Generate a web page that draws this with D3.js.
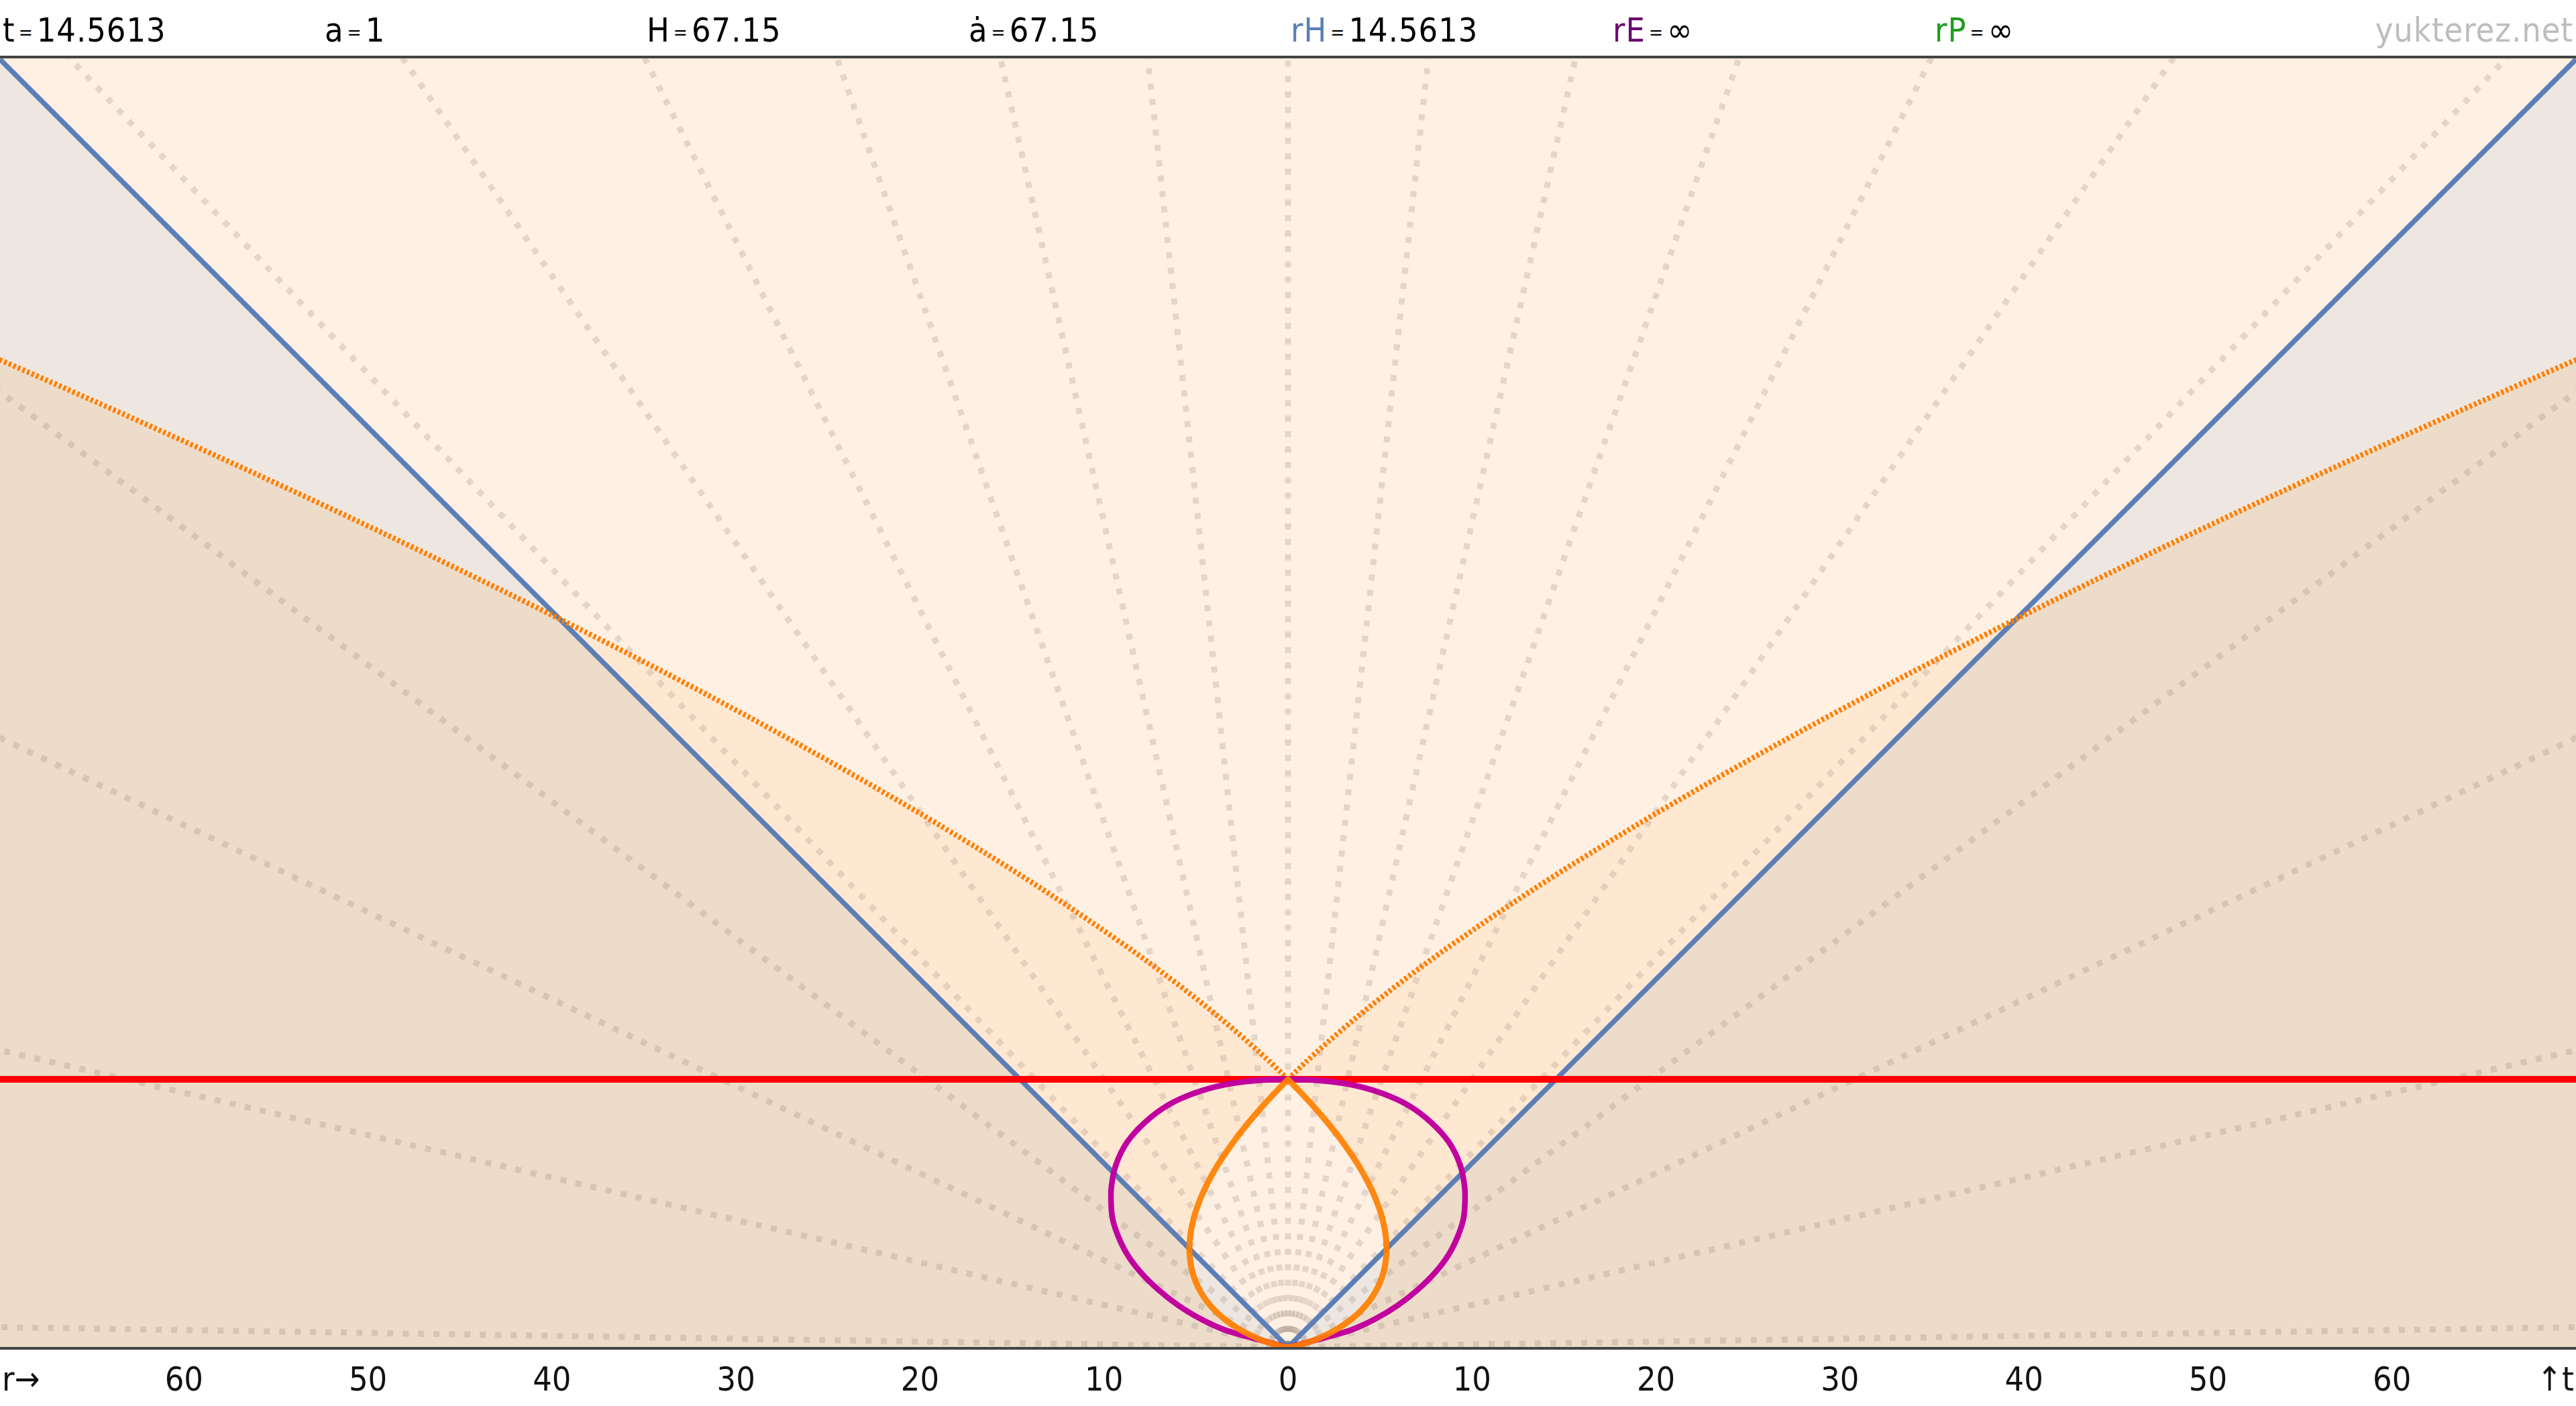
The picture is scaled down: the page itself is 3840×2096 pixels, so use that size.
<!DOCTYPE html>
<html><head><meta charset="utf-8">
<script src="https://cdn.jsdelivr.net/npm/d3@7"></script>
<style>html,body{margin:0;padding:0;background:#fff;overflow:hidden}</style>
</head><body>
<svg id="chart" width="3840" height="2096"></svg>
<script>
// ---------- data ----------
const T_NOW = 14.5613;
const headerLabels = ["t", "a", "H", "ȧ", "rH", "rE", "rP"];
const headerValues = ["14.5613", "1", "67.15", "67.15", "14.5613", "∞", "∞"];
const headerColors = ["#000", "#000", "#000", "#000", "#5b7fb6", "#6a0a6e", "#1f9e1f"];
const watermark = "yukterez.net";
const tickValues = [-60, -50, -40, -30, -20, -10, 0, 10, 20, 30, 40, 50, 60];
const tickLabels = ["60", "50", "40", "30", "20", "10", "0", "10", "20", "30", "40", "50", "60"];
// slopes r/t of the dotted comoving world lines
const raySlopes = [0, 0.1088, 0.2231, 0.3499, 0.4990, 0.6868, 0.9452, 1.3479, 2.1136, 4.336, 64];
// Hubble radius r = t
const hubbleT = [0, 70];
const hubbleR = [0, 70];
// past light cone (orange solid), t ascending
const pastT = [0, 0.02, 0.05, 0.1, 0.25, 0.5, 1, 1.5, 2, 2.5, 3, 3.5, 4, 4.5, 5, 5.357, 6, 7, 8, 9, 10, 11, 12, 13, 14, 14.5613];
const pastR = [0, 0.132, 0.284, 0.498, 1.016, 1.686, 2.678, 3.409, 3.971, 4.405, 4.739, 4.990, 5.168, 5.284, 5.345, 5.357, 5.320, 5.128, 4.792, 4.331, 3.758, 3.085, 2.322, 1.475, 0.550, 0];
// future light cone (orange dotted), t ascending
const futT = [14.5613, 15, 16, 18, 20, 22, 25, 28, 30, 33, 36, 39.58, 42, 45, 48, 51, 54, 57, 60, 70];
const futR = [0, 0.445, 1.508, 3.816, 6.346, 9.079, 13.51, 18.31, 21.69, 27.00, 32.58, 39.58, 44.49, 50.77, 57.26, 63.93, 70.77, 77.79, 84.96, 109.9];
// magenta curve, t ascending (one half, mirrored)
const magT = [0, 0.2, 0.5, 0.93, 1.54, 2.27, 3.12, 4.09, 5.07, 6.04, 7.01, 7.98, 8.71, 9.92, 11.14, 12.23, 13.14, 13.81, 14.28, 14.50, 14.5613];
const magR = [0, 0.75, 1.90, 3.40, 4.74, 5.95, 7.04, 8.02, 8.75, 9.23, 9.54, 9.62, 9.60, 9.35, 8.75, 7.77, 6.56, 5.10, 3.40, 1.70, 0];

// ---------- layout ----------
const W = 3840, H = 2096;
const x = d3.scaleLinear().domain([-70, 70]).range([0, W]);
const y = d3.scaleLinear().domain([0, 70]).range([2008.5, 88.4]);
const plotTop = 87, plotBottom = 2008.5;

const col = {
  base: "#fef0e3", outLC: "#ffe8d2", outH: "#eee7e1", both: "#ecdcc9",
  blue: "#5b7fb6", orange: "#ff7f00", magenta: "#c1009f", red: "#ff0000"
};

const svg = d3.select("#chart");
svg.append("rect").attr("width", W).attr("height", H).attr("fill", "#fff");
const defs = svg.append("defs");
defs.append("clipPath").attr("id", "plotClip").append("rect")
  .attr("x", 0).attr("y", plotTop).attr("width", W).attr("height", plotBottom - plotTop + 1);

const line = d3.line().x(d => x(d[0])).y(d => y(d[1]));
const smooth = d3.line().x(d => x(d[0])).y(d => y(d[1])).curve(d3.curveCatmullRom.alpha(0.5));
const join = (...strs) => strs.map((s, i) => i === 0 ? s : s.replace(/^M/, "L")).join("");

const pastRight = pastT.map((t, i) => [pastR[i], t]);
const pastLeft = pastT.map((t, i) => [-pastR[i], t]);
const futRight = futT.map((t, i) => [futR[i], t]);
const futLeft = futT.map((t, i) => [-futR[i], t]);

// light cone interior (past teardrop + future cone)
const lcPath = join(
  smooth(pastRight), smooth(futRight),
  smooth(futLeft.slice().reverse()), smooth(pastLeft.slice().reverse())
) + "Z";
defs.append("clipPath").attr("id", "lcClip").append("path").attr("d", lcPath);

// region outside Hubble radius
const hubOut = line([[0, 0], [-hubbleR[1], hubbleT[1]], [-70, 0]]) + "Z" +
               line([[0, 0], [hubbleR[1], hubbleT[1]], [70, 0]]) + "Z";

const plot = svg.append("g").attr("clip-path", "url(#plotClip)");
plot.append("rect").attr("x", 0).attr("y", plotTop).attr("width", W).attr("height", plotBottom - plotTop + 1).attr("fill", col.outLC);
plot.append("path").attr("d", hubOut).attr("fill", col.both);
plot.append("path").attr("d", lcPath).attr("fill", col.base);
plot.append("g").attr("clip-path", "url(#lcClip)").append("path").attr("d", hubOut).attr("fill", col.outH);

// dotted comoving world lines
const rays = [];
raySlopes.forEach(v => { rays.push(v); if (v > 0) rays.push(-v); });
plot.append("g").selectAll("path").data(rays).join("path")
  .attr("d", v => { const n = Math.hypot(v, 1); return line([[0, 0], [150 * v / n, 150 / n]]); })
  .attr("fill", "none").attr("stroke", "rgba(140,120,105,0.22)")
  .attr("stroke-width", 9).attr("stroke-dasharray", "9 14");

// Hubble radius (blue)
plot.append("path")
  .attr("d", line([[-hubbleR[1], hubbleT[1]], [hubbleR[0], hubbleT[0]], [hubbleR[1], hubbleT[1]]]))
  .attr("fill", "none").attr("stroke", col.blue).attr("stroke-width", 7.5).attr("stroke-linejoin", "miter");

// future light cone (orange dotted)
[futRight, futLeft].forEach(pts => {
  plot.append("path").attr("d", smooth(pts)).attr("fill", "none")
    .attr("stroke", col.orange).attr("stroke-width", 8).attr("stroke-dasharray", "4 3.4");
});

// now line (red)
plot.append("line").attr("x1", 0).attr("x2", W).attr("y1", y(T_NOW)).attr("y2", y(T_NOW))
  .attr("stroke", col.red).attr("stroke-width", 10);

// magenta curve
const magPts = magT.map((t, i) => [-magR[i], t]).concat(magT.slice(0, -1).reverse().map((t, j) => {
  const i = magT.length - 2 - j; return [magR[i], t];
}));
plot.append("path").attr("d", smooth(magPts)).attr("fill", "none")
  .attr("stroke", col.magenta).attr("stroke-width", 8.5).attr("stroke-linejoin", "round");

// past light cone (orange solid teardrop)
const tearPts = pastLeft.slice().reverse().concat(pastRight.slice(1, -1));
plot.append("path").attr("d", smooth(tearPts) + "Z").attr("fill", "none")
  .attr("stroke", col.orange).attr("stroke-opacity", 0.92).attr("stroke-width", 9)
  .attr("stroke-linejoin", "miter").attr("stroke-miterlimit", 10);

// frame lines
svg.append("line").attr("x1", 0).attr("x2", W).attr("y1", 85).attr("y2", 85).attr("stroke", "#444").attr("stroke-width", 4);
svg.append("line").attr("x1", 0).attr("x2", W).attr("y1", 2010).attr("y2", 2010).attr("stroke", "#444").attr("stroke-width", 4);

// header
const font = "'DejaVu Sans Condensed', 'Liberation Sans Narrow', sans-serif";
headerLabels.forEach((lab, i) => {
  const t = svg.append("text").attr("x", 4 + i * 480).attr("y", 62)
    .attr("font-family", font).attr("font-size", 50).attr("letter-spacing", 1).attr("fill", "#000");
  t.append("tspan").attr("fill", headerColors[i]).text(lab);
  t.append("tspan").attr("font-size", 28).attr("dx", 5).attr("dy", -4).text("=");
  t.append("tspan").attr("dx", 5).attr("dy", 4).text(headerValues[i]);
});
svg.append("text").attr("x", 3836).attr("y", 62).attr("text-anchor", "end")
  .attr("font-family", font).attr("font-size", 50).attr("letter-spacing", 1).attr("fill", "#bdbdbd").text(watermark);

// bottom axis labels
svg.append("g").selectAll("text").data(tickValues).join("text")
  .attr("x", d => x(d)).attr("y", 2073).attr("text-anchor", "middle")
  .attr("font-family", font).attr("font-size", 50).attr("fill", "#111")
  .text((d, i) => tickLabels[i]);
svg.append("text").attr("x", 3).attr("y", 2073).attr("font-family", font).attr("font-size", 50).attr("fill", "#111").text("r→");
svg.append("text").attr("x", 3837).attr("y", 2073).attr("text-anchor", "end").attr("font-family", font).attr("font-size", 50).attr("fill", "#111").text("↑t");
</script>
</body></html>
